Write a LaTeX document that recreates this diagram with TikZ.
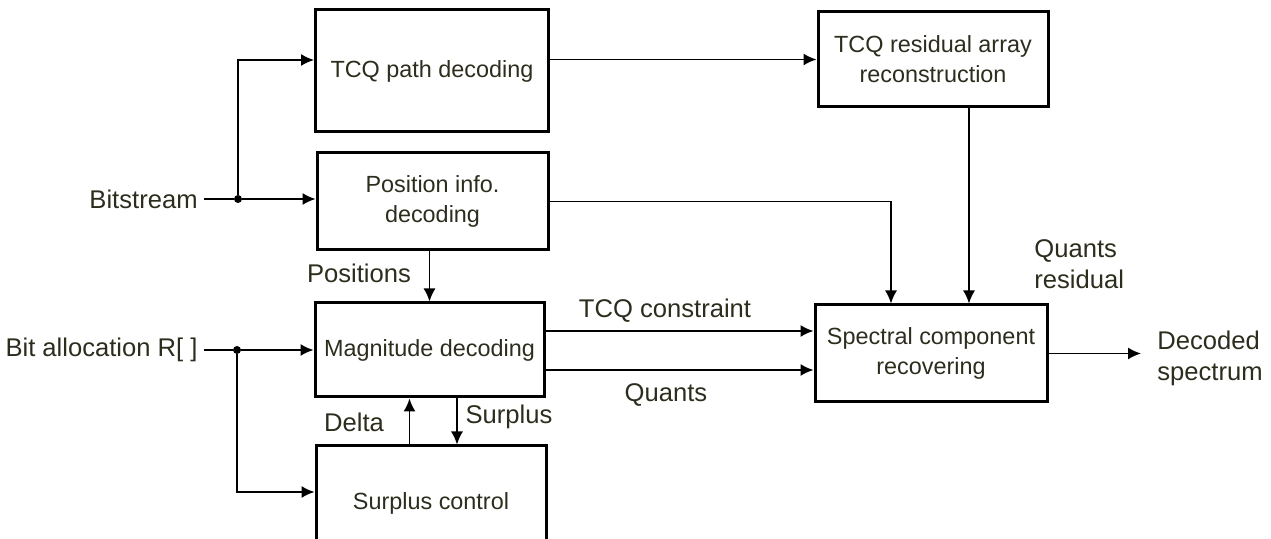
\documentclass[tikz,border=0pt]{standalone}
\usepackage{fontspec}
\setmainfont{Liberation Sans}
\usepackage{tikz}
\usetikzlibrary{arrows.meta,positioning}
\definecolor{inkgray}{RGB}{45,45,30}

\begin{document}
\begin{tikzpicture}[x=0.5pt, y=-0.5pt,
        block/.style={draw, line width=1.5pt, align=center, text=inkgray,
            font=\fontsize{11.7}{15}\selectfont, inner sep=0pt},
        lbl/.style={text=inkgray, align=left, inner sep=0pt,
            font=\fontsize{12.8}{15.5}\selectfont},
        flow/.style={-{Latex[length=6.5pt, width=6pt]}, line width=0.75pt},
        joint/.style={circle, fill, inner sep=0pt, minimum size=4pt}]
        \clip (0,0) rectangle (1271,539);

        % blocks
        \node (path) [block, minimum width=116.5pt, minimum height=61pt] at (432, 71) {TCQ path decoding};
        \node (resid) [block, minimum width=115pt, minimum height=47.5pt] at (933, 59.5) {TCQ residual array\\reconstruction};
        \node (pos) [block, minimum width=115.5pt, minimum height=48.5pt] at (432.5, 201.5) {Position info.\\decoding};
        \node (mag) [block, minimum width=114.5pt, minimum height=47pt] at (429.5, 350) {Magnitude decoding};
        \node (surp) [block, minimum width=115pt, minimum height=57pt] at (431, 503) {Surplus control};
        \node (spec) [block, minimum width=116pt, minimum height=48.5pt] at (931, 353.5) {Spectral component\\recovering};

        % inputs and outputs
        \node (bits) [lbl, anchor=east] at (198, 199) {Bitstream};
        \node (alloc) [lbl, anchor=east] at (198, 350) {Bit allocation R[ ]};
        \node (dec) [lbl, anchor=west] at (1157, 358) {Decoded\\spectrum};
        \node (dotA) [joint] at (238, 199) {};
        \node (dotB) [joint] at (237, 350) {};
        \coordinate (outend) at (1141, 353.5);

        % labels
        \node (lpos) [lbl] at (359, 273) {Positions};
        \node (lres) [lbl, anchor=west] at (1034, 264) {Quants\\residual};
        \node (lcon) [lbl] at (665, 311) {TCQ constraint};
        \node (lqua) [lbl] at (666, 395) {Quants};
        \node (ldel) [lbl] at (354, 422) {Delta};
        \node (lsur) [lbl] at (509, 417) {Surplus};

        % connectors
        \draw[line width=0.75pt, shorten <=3pt] (bits) -- (dotA);
        \draw[flow] (dotA) -- (dotA -| pos.west);
        \draw[flow] (dotA) |- ([yshift=5.5pt]path.west);
        \draw[flow] (path.east |- resid.west) -- (resid.west);
        \draw[flow] ([xshift=18pt]resid.south) -- ([xshift=18pt]resid.south |- spec.north);
        \draw[flow] (pos.east) -| ([xshift=-20pt]spec.north);
        \draw[flow] (mag.north |- pos.south) -- (mag.north);
        \draw[line width=0.75pt, shorten <=3pt] (alloc) -- (dotB);
        \draw[flow] (dotB) -- (mag.west);
        \draw[flow] (dotB) |- ([yshift=5.5pt]surp.west);
        \draw[flow] ([yshift=9.5pt]mag.east) -- ([yshift=9.5pt]mag.east -| spec.west);
        \draw[flow] ([yshift=-10pt]mag.east) -- ([yshift=-10pt]mag.east -| spec.west);
        \draw[flow] ([xshift=-10.75pt]surp.north) -- ([xshift=-10.75pt]surp.north |- mag.south);
        \draw[flow] ([xshift=13.75pt]mag.south) -- ([xshift=13.75pt]mag.south |- surp.north);
        \draw[flow] (spec.east) -- (outend);
    \end{tikzpicture}
\end{document}
